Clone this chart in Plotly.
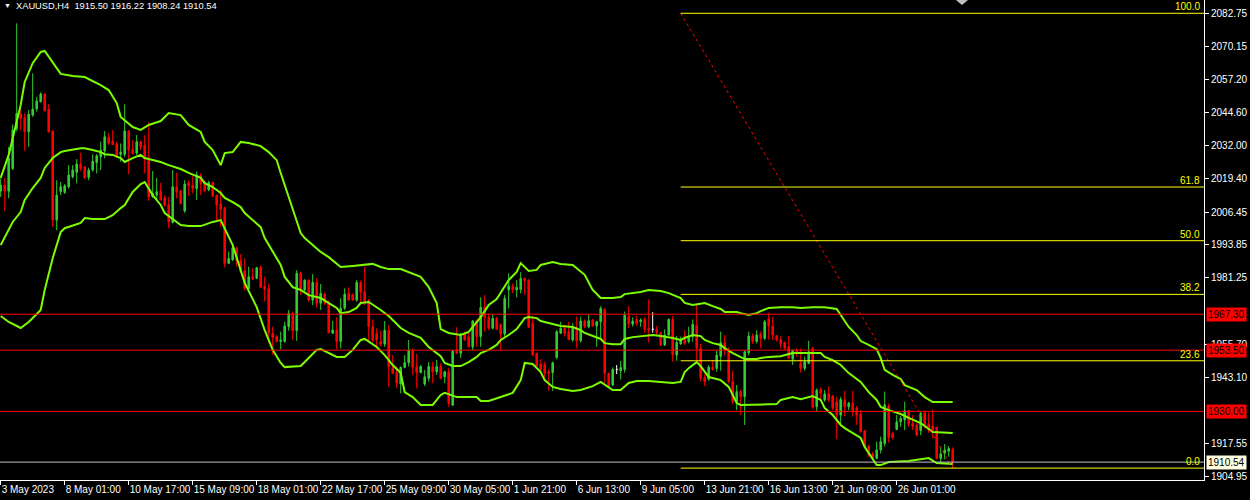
import plotly.graph_objects as go

# ---------------- data ----------------
symbol_title = "XAUUSD,H4\u00a0\u00a01915.50 1916.22 1908.24 1910.54"

x_tick_bars = [0, 16, 32, 48, 64, 80, 96, 112, 128, 144, 160, 176, 192, 208, 224]
x_tick_labels = ["3 May 2023", "8 May 01:00", "10 May 17:00", "15 May 09:00", "18 May 01:00",
                 "22 May 17:00", "25 May 09:00", "30 May 05:00", "1 Jun 21:00", "6 Jun 13:00",
                 "9 Jun 05:00", "13 Jun 21:00", "16 Jun 13:00", "21 Jun 09:00", "26 Jun 01:00"]

y_tick_vals = [2082.75, 2070.15, 2057.20, 2044.60, 2032.00, 2019.40, 2006.45, 1993.85,
               1981.25, 1955.70, 1943.10, 1917.55, 1904.95]

opens = [
    2014.5, 2016.8, 2014.5, 2023.2, 2038.5, 2044.1, 2042.7, 2037.3, 2043.7, 2046.0,
    2048.8, 2051.8, 2046.0, 2037.5, 2003.4, 2014.3, 2014.0, 2016.2, 2020.0, 2021.7,
    2024.9, 2023.9, 2019.8, 2022.6, 2025.5, 2027.7, 2029.9, 2035.3, 2033.7, 2032.8,
    2028.6, 2028.6, 2037.6, 2030.6, 2029.1, 2033.5, 2032.2, 2027.1, 2012.3, 2013.0,
    2014.5, 2012.0, 2009.4, 2002.5, 2016.2, 2014.6, 2006.9, 2017.7, 2016.8, 2015.5,
    2020.7, 2018.1, 2015.0, 2017.8, 2013.0, 2009.6, 2007.9, 1986.8, 1988.1, 1992.8,
    1987.8, 1984.0, 1977.2, 1981.7, 1981.1, 1985.3, 1978.1, 1977.2, 1960.0, 1958.7,
    1956.8, 1956.8, 1962.5, 1967.6, 1961.0, 1983.0, 1976.6, 1980.4, 1972.7, 1979.5,
    1971.5, 1975.0, 1971.5, 1960.0, 1961.2, 1956.8, 1969.6, 1975.3, 1974.7, 1972.7,
    1979.5, 1975.9, 1972.7, 1962.5, 1960.0, 1956.8, 1955.8, 1961.2, 1946.8, 1944.9,
    1940.5, 1946.9, 1948.7, 1953.3, 1947.2, 1944.9, 1940.5, 1942.7, 1947.2, 1945.2,
    1947.2, 1943.3, 1945.2, 1932.4, 1953.6, 1952.3, 1959.6, 1958.7, 1954.8, 1964.7,
    1958.7, 1969.9, 1966.1, 1961.9, 1965.7, 1963.2, 1959.7, 1976.6, 1978.1, 1976.6,
    1976.8, 1981.0, 1980.4, 1963.8, 1952.3, 1948.2, 1947.8, 1945.2, 1944.9, 1950.7,
    1960.0, 1961.9, 1960.6, 1957.4, 1962.2, 1957.1, 1964.7, 1962.5, 1965.1, 1962.8,
    1964.4, 1969.2, 1944.6, 1940.1, 1946.1, 1945.6, 1946.1, 1966.6, 1963.5, 1965.3,
    1964.4, 1965.3, 1961.9, 1961.5, 1961.5, 1960.2, 1955.5, 1959.3, 1965.3, 1951.6,
    1955.9, 1958.9, 1956.8, 1958.7, 1963.1, 1954.2, 1943.1, 1942.3, 1946.9, 1946.5,
    1951.2, 1956.4, 1953.5, 1941.4, 1933.7, 1937.6, 1935.6, 1952.5, 1958.9, 1956.8,
    1959.7, 1958.0, 1965.5, 1962.8, 1959.0, 1957.6, 1956.4, 1954.8, 1950.0, 1953.3,
    1948.4, 1946.5, 1948.4, 1954.2, 1931.8, 1938.5, 1934.4, 1936.7, 1935.9, 1933.7,
    1928.6, 1934.4, 1931.8, 1933.1, 1931.2, 1929.0, 1922.6, 1916.7, 1913.7, 1912.0,
    1915.2, 1917.7, 1932.1, 1921.6, 1923.1, 1926.0, 1926.7, 1930.3, 1925.4, 1924.8,
    1922.6, 1929.5, 1925.2, 1924.4, 1923.9, 1912.0, 1913.9, 1914.7, 1915.50]

highs = [
    2019.4, 2019.6, 2031.5, 2040.1, 2078.9, 2046.3, 2044.3, 2045.6, 2059.7, 2050.7,
    2052.4, 2052.0, 2047.9, 2037.9, 2018.7, 2018.1, 2017.2, 2024.5, 2024.5, 2026.8,
    2029.2, 2024.0, 2023.5, 2028.6, 2028.7, 2033.5, 2037.6, 2036.7, 2037.9, 2033.5,
    2032.8, 2047.9, 2037.9, 2034.1, 2036.0, 2033.9, 2036.0, 2040.9, 2022.2, 2019.6,
    2017.7, 2013.0, 2012.3, 2022.6, 2021.6, 2014.9, 2018.7, 2018.7, 2020.4, 2022.0,
    2021.3, 2018.7, 2018.5, 2018.1, 2013.0, 2015.0, 2008.6, 1991.3, 1993.2, 1993.2,
    1990.4, 1988.7, 1985.5, 1984.9, 1985.5, 1986.0, 1981.7, 1978.9, 1962.5, 1959.3,
    1960.6, 1964.4, 1968.9, 1968.3, 1984.2, 1983.6, 1980.6, 1980.6, 1982.7, 1981.1,
    1978.9, 1975.6, 1972.7, 1964.7, 1966.1, 1973.4, 1977.2, 1977.6, 1975.3, 1980.4,
    1980.1, 1985.5, 1973.0, 1965.3, 1961.9, 1961.0, 1964.7, 1963.1, 1951.6, 1947.2,
    1947.2, 1951.6, 1957.4, 1954.2, 1952.0, 1947.8, 1945.9, 1949.0, 1949.1, 1949.7,
    1948.4, 1945.6, 1946.5, 1953.6, 1962.3, 1960.2, 1960.6, 1960.6, 1965.1, 1965.3,
    1973.8, 1974.7, 1967.6, 1967.4, 1966.3, 1963.8, 1974.7, 1983.0, 1979.1, 1980.4,
    1983.4, 1981.4, 1980.7, 1966.6, 1952.5, 1950.0, 1949.1, 1946.1, 1949.1, 1961.2,
    1964.4, 1963.2, 1964.4, 1963.8, 1966.4, 1966.3, 1965.3, 1967.0, 1965.4, 1964.8,
    1970.4, 1969.5, 1944.9, 1946.9, 1947.8, 1949.3, 1968.3, 1970.4, 1966.1, 1966.6,
    1965.7, 1966.1, 1973.0, 1968.1, 1962.8, 1960.6, 1961.5, 1965.7, 1966.6, 1958.9,
    1958.7, 1961.2, 1962.5, 1965.3, 1971.2, 1955.9, 1944.3, 1947.8, 1949.7, 1953.3,
    1960.6, 1959.3, 1954.6, 1945.6, 1940.1, 1938.2, 1953.5, 1960.6, 1959.9, 1961.2,
    1960.6, 1965.1, 1967.9, 1966.3, 1959.3, 1958.9, 1956.8, 1958.9, 1953.8, 1954.2,
    1954.2, 1951.0, 1957.1, 1954.8, 1938.8, 1939.2, 1938.2, 1939.7, 1936.3, 1935.6,
    1935.6, 1937.9, 1933.7, 1937.9, 1932.1, 1930.5, 1922.9, 1917.1, 1914.5, 1918.4,
    1920.3, 1937.6, 1933.1, 1922.2, 1928.6, 1928.2, 1933.7, 1930.5, 1928.6, 1925.4,
    1929.9, 1930.3, 1929.5, 1930.8, 1924.1, 1916.5, 1917.5, 1916.7, 1916.22]

lows = [
    2012.3, 2006.9, 2011.8, 2022.6, 2037.5, 2037.9, 2029.9, 2031.5, 2043.0, 2045.0,
    2048.6, 2045.0, 2037.0, 2000.8, 1999.5, 2013.0, 2013.5, 2015.5, 2019.4, 2017.5,
    2022.2, 2019.4, 2018.7, 2022.0, 2021.3, 2022.6, 2027.1, 2032.2, 2032.2, 2027.3,
    2025.8, 2027.7, 2021.0, 2028.6, 2028.3, 2030.3, 2021.3, 2010.8, 2012.0, 2010.7,
    2011.0, 2008.5, 2000.2, 2002.1, 2011.7, 2009.4, 2006.2, 2012.7, 2013.7, 2011.1,
    2013.0, 2014.0, 2014.5, 2012.2, 2002.8, 2000.9, 1985.3, 1986.6, 1987.8, 1985.5,
    1983.2, 1976.3, 1976.6, 1980.6, 1980.7, 1977.4, 1972.1, 1956.4, 1951.6, 1956.4,
    1953.8, 1956.4, 1961.0, 1957.4, 1957.1, 1974.7, 1975.9, 1972.1, 1970.8, 1969.9,
    1968.9, 1970.8, 1960.0, 1959.7, 1953.8, 1954.2, 1968.9, 1972.5, 1972.5, 1972.1,
    1970.8, 1970.8, 1956.8, 1956.4, 1954.8, 1954.8, 1954.8, 1939.5, 1944.4, 1938.9,
    1936.9, 1946.5, 1947.2, 1944.0, 1938.8, 1944.6, 1939.7, 1941.4, 1940.8, 1944.0,
    1942.3, 1940.8, 1931.8, 1932.1, 1952.0, 1950.4, 1957.2, 1954.6, 1953.5, 1954.8,
    1954.8, 1960.6, 1961.2, 1961.5, 1961.2, 1953.5, 1958.7, 1969.5, 1975.3, 1973.8,
    1975.3, 1974.7, 1961.9, 1951.2, 1947.2, 1944.6, 1942.7, 1937.9, 1937.9, 1950.0,
    1959.7, 1958.7, 1957.4, 1956.8, 1954.2, 1956.4, 1961.9, 1961.9, 1962.5, 1954.8,
    1957.6, 1940.8, 1939.2, 1939.7, 1944.3, 1942.3, 1944.9, 1961.9, 1962.5, 1962.8,
    1962.5, 1960.2, 1956.4, 1960.2, 1959.3, 1955.1, 1955.1, 1958.9, 1949.1, 1949.4,
    1955.5, 1955.5, 1956.1, 1956.8, 1949.1, 1941.4, 1939.7, 1941.8, 1945.6, 1945.2,
    1945.6, 1951.6, 1940.8, 1932.8, 1930.5, 1928.6, 1924.8, 1951.6, 1955.9, 1956.1,
    1954.2, 1957.4, 1957.5, 1957.4, 1956.8, 1954.2, 1953.6, 1950.0, 1947.8, 1951.0,
    1944.9, 1945.6, 1948.4, 1930.8, 1929.9, 1934.1, 1933.7, 1933.7, 1930.5, 1919.3,
    1924.8, 1928.2, 1930.5, 1928.0, 1924.8, 1921.8, 1916.2, 1912.6, 1911.3, 1911.6,
    1913.9, 1916.5, 1918.0, 1919.3, 1922.8, 1924.1, 1922.8, 1924.1, 1922.8, 1920.5,
    1920.9, 1923.5, 1921.8, 1919.7, 1911.6, 1910.3, 1911.6, 1912.6, 1908.24]

closes = [
    2016.8, 2014.5, 2027.1, 2038.0, 2044.3, 2042.4, 2037.3, 2044.1, 2046.0, 2049.1,
    2051.8, 2045.4, 2037.3, 2003.4, 2013.0, 2016.2, 2016.6, 2020.7, 2022.6, 2024.9,
    2023.2, 2019.6, 2022.6, 2026.0, 2028.1, 2030.3, 2035.4, 2032.8, 2032.4, 2028.3,
    2029.4, 2037.6, 2030.3, 2029.0, 2033.5, 2031.5, 2026.8, 2012.3, 2013.6, 2014.3,
    2011.1, 2009.1, 2002.7, 2016.2, 2014.3, 2009.8, 2017.2, 2016.6, 2015.5, 2020.7,
    2017.5, 2014.7, 2017.8, 2012.7, 2009.2, 2007.5, 1986.8, 1988.7, 1992.8, 1987.8,
    1983.6, 1977.2, 1981.7, 1980.7, 1985.1, 1977.6, 1976.8, 1960.0, 1958.4, 1956.8,
    1957.4, 1962.8, 1967.6, 1961.0, 1983.0, 1977.2, 1980.4, 1972.7, 1979.5, 1971.5,
    1975.3, 1971.5, 1960.2, 1961.2, 1956.8, 1969.6, 1975.0, 1972.7, 1972.7, 1979.5,
    1975.9, 1972.1, 1962.5, 1957.4, 1957.4, 1955.8, 1961.2, 1947.2, 1944.6, 1940.8,
    1946.9, 1948.7, 1953.5, 1946.9, 1944.9, 1947.2, 1943.3, 1947.2, 1945.2, 1947.2,
    1942.7, 1945.2, 1933.1, 1953.2, 1952.3, 1959.6, 1957.4, 1954.8, 1964.7, 1958.7,
    1969.9, 1966.1, 1961.9, 1965.7, 1961.5, 1959.7, 1973.4, 1978.1, 1976.8, 1977.6,
    1981.0, 1980.2, 1962.3, 1951.6, 1947.4, 1946.1, 1944.6, 1944.6, 1948.7, 1960.6,
    1961.9, 1959.9, 1957.6, 1962.5, 1957.1, 1964.7, 1962.5, 1964.8, 1962.8, 1964.4,
    1969.5, 1944.6, 1939.5, 1946.1, 1946.1, 1946.8, 1967.0, 1963.5, 1964.7, 1963.8,
    1965.1, 1961.5, 1961.2, 1961.5, 1960.2, 1955.5, 1959.3, 1965.3, 1951.6, 1956.4,
    1957.4, 1956.1, 1958.7, 1963.4, 1954.2, 1942.7, 1941.4, 1946.9, 1946.1, 1951.6,
    1956.4, 1953.5, 1941.4, 1933.7, 1937.6, 1935.6, 1952.9, 1958.9, 1956.8, 1959.3,
    1958.0, 1964.4, 1962.8, 1959.3, 1957.4, 1955.9, 1954.2, 1950.4, 1953.3, 1952.3,
    1946.5, 1949.1, 1952.9, 1931.6, 1938.2, 1936.9, 1936.7, 1934.4, 1931.2, 1928.6,
    1934.6, 1931.8, 1933.1, 1929.9, 1928.6, 1922.2, 1916.5, 1913.3, 1912.0, 1915.2,
    1918.4, 1932.5, 1920.0, 1920.0, 1926.0, 1927.3, 1930.3, 1925.2, 1924.4, 1920.9,
    1929.2, 1924.8, 1923.1, 1922.9, 1912.0, 1913.7, 1915.2, 1915.8, 1910.54]

bb_upper_bars = [0, 2, 5, 6, 8, 10, 11, 13, 15, 18, 21, 25, 27, 29, 30, 33, 35, 37, 40, 42,
                 45, 47, 50, 51, 53, 55, 56, 58, 60, 62, 65, 67, 69, 70, 72, 74, 75, 76, 78, 80,
                 82, 84, 85, 88, 90, 93, 95, 97, 100, 102, 105, 107, 109, 110, 112, 115, 117, 120, 122, 124,
                 125, 127, 129, 130, 132, 134, 135, 138, 140, 143, 146, 148, 150, 153, 155, 156, 160, 162, 165, 167,
                 170, 171, 173, 175, 176, 178, 180, 181, 184, 185, 187, 189, 190, 192, 195, 198, 200, 203, 206, 209,
                 210, 212, 214, 215, 217, 219, 220, 221, 223, 225, 226, 229, 231, 233, 238]
bb_upper = [2019.6, 2028.4, 2047.6, 2056.4, 2063.6, 2067.9, 2068.3, 2064.1, 2059.5, 2058.7,
            2058.3, 2055.2, 2053.3, 2048.3, 2043.0, 2039.1, 2038.0, 2039.9, 2041.4, 2044.5,
            2043.7, 2039.9, 2037.2, 2033.4, 2030.3, 2024.5, 2029.1, 2029.5, 2033.4, 2033.0,
            2031.8, 2029.5, 2026.4, 2021.5, 2012.3, 2003.4, 1998.4, 1996.5, 1993.8, 1991.2,
            1989.2, 1986.9, 1985.4, 1985.8, 1986.2, 1986.6, 1985.4, 1984.6, 1984.6, 1983.5,
            1981.6, 1977.7, 1971.6, 1961.6, 1960.1, 1959.3, 1960.5, 1966.2, 1970.8, 1973.1,
            1975.4, 1980.4, 1983.5, 1986.9, 1983.9, 1984.3, 1986.2, 1987.3, 1986.6, 1986.2,
            1982.4, 1976.6, 1973.5, 1973.5, 1973.9, 1975.0, 1975.8, 1976.6, 1976.2, 1975.4,
            1973.5, 1971.6, 1970.8, 1971.2, 1971.6, 1970.4, 1969.3, 1968.1, 1968.1, 1967.7,
            1967.0, 1967.7, 1968.5, 1969.7, 1970.0, 1970.0, 1969.7, 1970.0, 1970.0, 1969.3,
            1967.0, 1962.4, 1959.3, 1957.0, 1955.5, 1953.9, 1950.5, 1945.9, 1944.0, 1942.4,
            1940.1, 1938.2, 1935.5, 1933.6, 1933.6]

bb_mid_bars = [0, 1, 3, 5, 6, 8, 10, 11, 13, 15, 16, 20, 21, 23, 25, 26, 28, 30, 31, 33,
               35, 36, 38, 40, 42, 45, 47, 50, 51, 53, 55, 56, 58, 60, 61, 63, 65, 66, 68, 70,
               71, 73, 75, 77, 80, 82, 84, 85, 87, 89, 90, 92, 94, 95, 97, 98, 100, 102, 105, 107,
               110, 111, 113, 115, 117, 119, 120, 122, 124, 125, 127, 129, 130, 131, 132, 134, 135, 138, 140, 143,
               145, 146, 148, 150, 151, 153, 155, 156, 158, 160, 163, 165, 168, 170, 171, 173, 175, 176, 178, 180,
               181, 183, 185, 186, 189, 190, 192, 195, 198, 203, 205, 206, 208, 210, 212, 215, 217, 219, 220, 222,
               225, 227, 230, 231, 233, 238]
bb_mid = [1993.8, 1996.9, 2002.7, 2006.5, 2011.1, 2015.7, 2019.6, 2023.4, 2027.2, 2029.5,
          2029.9, 2031.0, 2031.0, 2030.3, 2029.5, 2028.7, 2028.4, 2027.2, 2025.7, 2027.2,
          2028.4, 2027.2, 2026.4, 2025.7, 2024.5, 2023.0, 2021.5, 2019.6, 2017.6, 2016.1,
          2013.8, 2011.9, 2010.3, 2008.4, 2006.1, 2003.4, 2000.7, 1996.5, 1991.2, 1986.2,
          1981.6, 1977.7, 1976.6, 1974.6, 1973.5, 1971.6, 1969.7, 1967.7, 1968.1, 1969.7,
          1971.6, 1972.0, 1970.0, 1968.9, 1966.6, 1965.1, 1962.0, 1960.1, 1958.2, 1954.7,
          1951.2, 1948.6, 1947.4, 1947.4, 1948.9, 1950.9, 1952.4, 1953.6, 1955.5, 1957.4,
          1959.3, 1961.6, 1963.9, 1965.8, 1966.2, 1965.8, 1964.7, 1963.5, 1962.8, 1962.4,
          1961.2, 1960.1, 1958.9, 1957.8, 1956.2, 1955.8, 1955.8, 1957.8, 1958.5, 1958.9,
          1959.3, 1958.9, 1958.2, 1957.4, 1958.2, 1959.3, 1958.9, 1957.4, 1956.2, 1955.5,
          1954.3, 1952.4, 1950.9, 1950.1, 1950.1, 1950.5, 1950.9, 1951.2, 1952.4, 1952.4,
          1952.4, 1950.9, 1949.7, 1947.8, 1944.7, 1941.3, 1937.4, 1934.4, 1931.7, 1930.5,
          1929.0, 1927.5, 1925.5, 1924.4, 1922.1, 1921.7]

bb_lower_bars = [0, 2, 5, 7, 10, 11, 13, 14, 15, 16, 20, 21, 23, 26, 28, 30, 31, 33, 35, 36,
                 38, 40, 41, 43, 45, 47, 50, 53, 55, 58, 61, 64, 66, 68, 70, 71, 75, 77, 79, 80,
                 84, 86, 88, 90, 91, 94, 96, 98, 100, 101, 103, 105, 108, 110, 111, 114, 119, 120, 122, 125,
                 128, 130, 131, 133, 135, 136, 138, 140, 143, 145, 148, 150, 153, 155, 157, 159, 162, 165, 168, 170,
                 171, 172, 174, 175, 177, 179, 180, 182, 184, 185, 190, 194, 195, 198, 200, 203, 205, 206, 208, 210,
                 211, 213, 215, 216, 218, 219, 220, 222, 227, 231, 232, 234, 238]
bb_lower = [1966.6, 1964.3, 1962.0, 1964.3, 1968.9, 1976.6, 1988.8, 1993.8, 1998.8, 2000.3,
            2002.3, 2004.2, 2003.8, 2003.8, 2005.3, 2008.0, 2009.2, 2014.2, 2017.2, 2018.0,
            2013.0, 2009.2, 2006.1, 2003.8, 2001.5, 2001.1, 2001.1, 2002.7, 2003.4, 1993.8,
            1979.3, 1970.0, 1961.2, 1953.6, 1948.6, 1947.0, 1947.4, 1950.5, 1953.6, 1953.9,
            1950.9, 1950.9, 1953.6, 1957.4, 1957.8, 1954.7, 1951.6, 1947.8, 1944.7, 1937.4,
            1935.5, 1932.5, 1932.5, 1936.3, 1937.1, 1935.5, 1935.5, 1934.0, 1934.0, 1935.5,
            1937.1, 1942.0, 1948.6, 1948.2, 1945.1, 1942.0, 1939.4, 1938.6, 1937.8, 1938.2,
            1939.7, 1941.3, 1938.2, 1938.2, 1940.9, 1941.7, 1941.7, 1941.3, 1940.9, 1941.3,
            1945.1, 1946.6, 1948.9, 1947.4, 1943.2, 1942.4, 1942.0, 1939.4, 1933.2, 1932.5,
            1932.8, 1932.8, 1934.4, 1935.5, 1934.7, 1935.9, 1934.4, 1931.3, 1928.6, 1924.8,
            1923.6, 1921.7, 1919.8, 1916.3, 1911.4, 1909.4, 1909.4, 1910.6, 1911.0, 1911.7,
            1912.1, 1910.2, 1909.8]

red_levels = [1967.30, 1953.50, 1930.00]
fib_levels = [0.0, 23.6, 38.2, 50.0, 61.8, 100.0]
fib_high = 2082.75
fib_low = 1908.24
fib_start_bar = 170
fib_end_bar = 238

# ---------------- styling ----------------
BULL = "#32CD32"
BEAR = "#FF0000"
DOJI = "#FFFFFF"
BAND = "#7CFC00"
FIB = "#FFFF00"
FONT = "Liberation Sans, Arial, sans-serif"
x_min, x_max = -0.175, 300.825
y_min, y_max = 1903.68, 2087.85

n = len(closes)
bars = list(range(n))

fig = go.Figure()

# Bollinger bands
for bx, by in ((bb_upper_bars, bb_upper), (bb_mid_bars, bb_mid), (bb_lower_bars, bb_lower)):
    fig.add_trace(go.Scatter(x=bx, y=by, mode="lines", line=dict(color=BAND, width=2),
                             hoverinfo="skip", showlegend=False))

def subset(cond):
    idx = [i for i in bars if cond(opens[i], closes[i])]
    return (idx, [opens[i] for i in idx], [highs[i] for i in idx],
            [lows[i] for i in idx], [closes[i] for i in idx])

for cond, col in ((lambda o, c: c > o, BULL), (lambda o, c: c < o, BEAR), (lambda o, c: c == o, DOJI)):
    ix, o, h, l, c = subset(cond)
    fig.add_trace(go.Candlestick(
        x=ix, open=o, high=h, low=l, close=c,
        increasing=dict(line=dict(color=col, width=1), fillcolor=col),
        decreasing=dict(line=dict(color=col, width=1), fillcolor=col),
        whiskerwidth=0, hoverinfo="skip", showlegend=False))

# Fibonacci dotted base line
fig.add_trace(go.Scatter(x=[fib_start_bar, fib_end_bar], y=[fib_high, fib_low], mode="lines",
                         line=dict(color="#FF0000", width=1, dash="dot"), hoverinfo="skip",
                         showlegend=False))

shapes = []
annotations = []

# bid line
bid = closes[-1]
shapes.append(dict(type="line", xref="paper", x0=0, x1=1, yref="y", y0=bid, y1=bid,
                   line=dict(color="#C0C0C0", width=1)))

for lv in red_levels:
    shapes.append(dict(type="line", xref="paper", x0=0, x1=1, yref="y", y0=lv, y1=lv,
                       line=dict(color="#FF0000", width=1)))
    annotations.append(dict(xref="paper", x=1, xanchor="left", xshift=2, yref="y", y=lv,
                            yanchor="middle", text=f"{lv:.2f}", showarrow=False,
                            bgcolor="#FF0000", borderpad=1,
                            font=dict(family=FONT, size=10, color="#000000")))

annotations.append(dict(xref="paper", x=1, xanchor="left", xshift=2, yref="y", y=bid,
                        yanchor="middle", text=f"{bid:.2f}", showarrow=False,
                        bgcolor="#FFFFE0", borderpad=1,
                        font=dict(family=FONT, size=10, color="#000000")))

for lvl in fib_levels:
    p = fib_low + lvl / 100.0 * (fib_high - fib_low)
    shapes.append(dict(type="line", xref="x", x0=fib_start_bar, x1=x_max, yref="y", y0=p, y1=p,
                       line=dict(color=FIB, width=1)))
    annotations.append(dict(xref="paper", x=1, xanchor="right", xshift=-2, yref="y", y=p,
                            yanchor="bottom", yshift=-1, text=f"{lvl:.1f}", showarrow=False,
                            font=dict(family=FONT, size=10, color=FIB)))

# title
annotations.append(dict(xref="paper", yref="paper", x=0, y=1, xanchor="left", yanchor="top",
                        xshift=14, yshift=1, text=symbol_title, showarrow=False,
                        font=dict(family=FONT, size=9.3, color="#FFFFFF")))
annotations.append(dict(xref="paper", yref="paper", x=0, y=1, xanchor="left", yanchor="top",
                        xshift=2, yshift=0, text="\u25BC", showarrow=False,
                        font=dict(family=FONT, size=7, color="#FFFFFF")))
# chart shift marker
shapes.append(dict(type="path", xref="paper", yref="paper",
                   path="M 0.7940 1 L 0.8040 1 L 0.7990 0.9896 Z",
                   fillcolor="#C0C0C0", line=dict(width=0)))

fig.update_layout(
    width=1250, height=500,
    margin=dict(l=0, r=46, t=0, b=20, autoexpand=False),
    paper_bgcolor="#000000", plot_bgcolor="#000000",
    showlegend=False, hovermode=False, boxgap=0.45,
    shapes=shapes, annotations=annotations,
    xaxis=dict(range=[x_min, x_max], tickmode="array", tickvals=x_tick_bars, ticktext=x_tick_labels,
               ticks="outside", ticklen=4, tickcolor="#FFFFFF", ticklabelposition="outside right",
               tickangle=0, automargin=False,
               showline=True, linecolor="#FFFFFF", linewidth=1, showgrid=False, zeroline=False,
               rangeslider=dict(visible=False), fixedrange=True,
               tickfont=dict(family=FONT, size=10, color="#FFFFFF")),
    yaxis=dict(range=[y_min, y_max], side="right", tickmode="array", tickvals=y_tick_vals,
               ticktext=[f"{v:.2f}" for v in y_tick_vals], ticks="outside", ticklen=4,
               tickcolor="#FFFFFF", showline=True, linecolor="#FFFFFF", linewidth=1,
               showgrid=False, zeroline=False, fixedrange=True, automargin=False,
               tickfont=dict(family=FONT, size=10, color="#FFFFFF")),
)

fig.write_html("out.html", config={"displayModeBar": False},
               post_script="document.body.style.margin='0';document.body.style.overflow='hidden';")
